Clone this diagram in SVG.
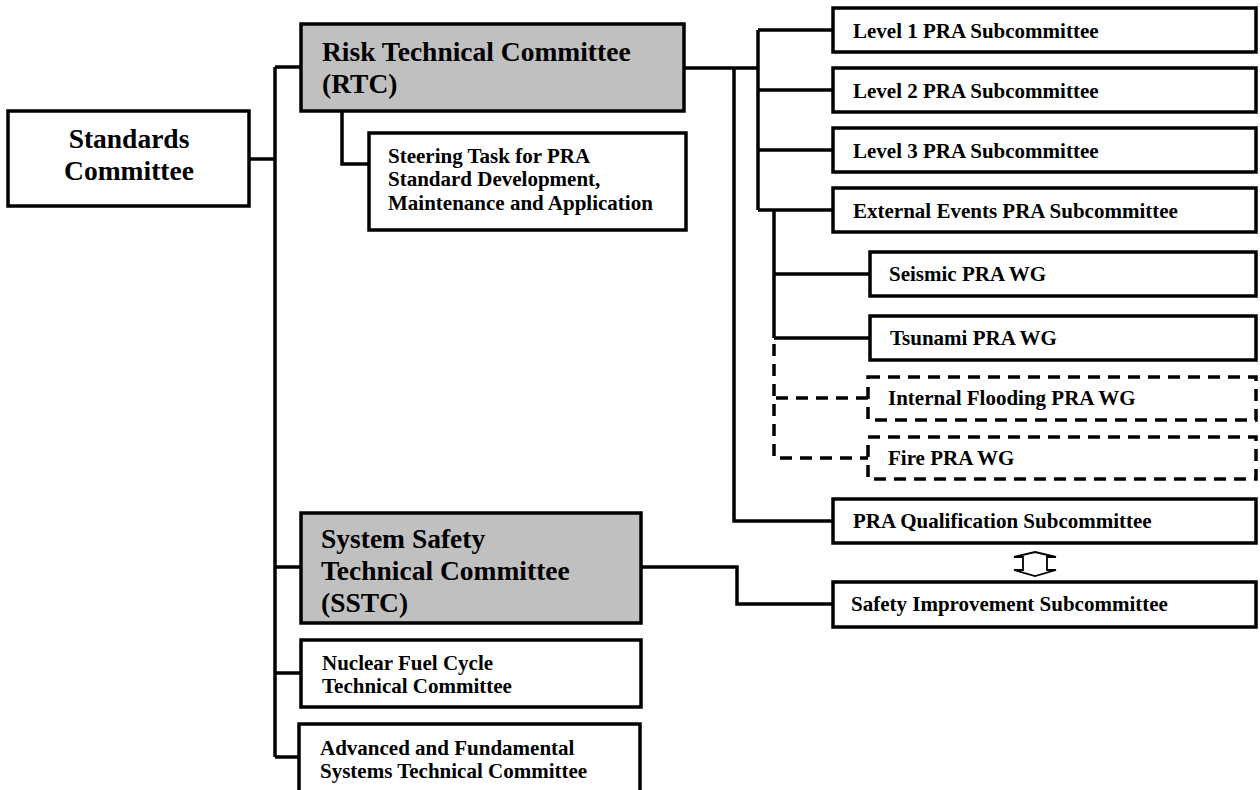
<svg xmlns="http://www.w3.org/2000/svg" width="1260" height="790" viewBox="0 0 1260 790">
<style>
.box{fill:#ffffff;stroke:#000;stroke-width:3.5}
.gray{fill:#c0c0c0;stroke:#000;stroke-width:3.5}
.dbox{fill:#ffffff;stroke:#000;stroke-width:3.5;stroke-dasharray:12 8}
.ln{fill:none;stroke:#000;stroke-width:3.5}
.dl{fill:none;stroke:#000;stroke-width:3.5;stroke-dasharray:12 8}
.big{font-family:"Liberation Serif","Times New Roman",serif;font-weight:bold;font-size:27.5px;fill:#000}
.sm{font-family:"Liberation Serif","Times New Roman",serif;font-weight:bold;font-size:21px;fill:#000}
</style>
<rect width="1260" height="790" fill="#ffffff"/>
<g id="connectors">
<path class="ln" d="M275,67 V757"/>
<path class="ln" d="M249,159 H275"/>
<path class="ln" d="M275,67 H301"/>
<path class="ln" d="M275,567 H301"/>
<path class="ln" d="M275,673 H301"/>
<path class="ln" d="M275,757 H299"/>
<path class="ln" d="M342,111 V164 H369"/>
<path class="ln" d="M684,68 H758"/>
<path class="ln" d="M758,30 V210"/>
<path class="ln" d="M758,30 H833"/>
<path class="ln" d="M758,90 H833"/>
<path class="ln" d="M758,150 H833"/>
<path class="ln" d="M758,210 H833"/>
<path class="ln" d="M734,68 V521 H833"/>
<path class="ln" d="M774,210 V338"/>
<path class="ln" d="M774,274 H870"/>
<path class="ln" d="M774,338 H870"/>
<path class="dl" d="M774,344 V458 H868"/>
<path class="dl" d="M868,398 H774"/>
<path class="ln" d="M641,567 H737 V604 H833"/>
<path fill="#ffffff" stroke="#000" stroke-width="1.8" d="M1035,552 L1056,557 L1047,557 L1047,570 L1056,570 L1035,576 L1014,570 L1023,570 L1023,557 L1014,557 Z"/>
</g>
<g id="standards">
<rect class="box" x="8" y="111" width="241" height="95"/>
<text class="big" x="129" y="148" text-anchor="middle">Standards</text>
<text class="big" x="129" y="180" text-anchor="middle">Committee</text>
</g>
<g id="rtc">
<rect class="gray" x="301" y="24" width="383" height="87"/>
<text class="big" x="322" y="61">Risk Technical Committee</text>
<text class="big" x="322" y="93">(RTC)</text>
</g>
<g id="steering">
<rect class="box" x="369" y="133" width="317" height="97"/>
<text class="sm" x="388" y="163">Steering Task for PRA</text>
<text class="sm" x="388" y="186">Standard Development,</text>
<text class="sm" x="388" y="210">Maintenance and Application</text>
</g>
<g id="sstc">
<rect class="gray" x="301" y="513" width="340" height="110"/>
<text class="big" x="321" y="548">System Safety</text>
<text class="big" x="321" y="580">Technical Committee</text>
<text class="big" x="321" y="612">(SSTC)</text>
</g>
<g id="nfctc">
<rect class="box" x="301" y="640" width="340" height="67"/>
<text class="sm" x="322" y="670">Nuclear Fuel Cycle</text>
<text class="sm" x="322" y="693">Technical Committee</text>
</g>
<g id="afstc">
<rect class="box" x="299" y="724" width="341" height="72"/>
<text class="sm" x="320" y="755">Advanced and Fundamental</text>
<text class="sm" x="320" y="778">Systems Technical Committee</text>
</g>
<g id="level1">
<rect class="box" x="833" y="8" width="423" height="44"/>
<text class="sm" x="853" y="38">Level 1 PRA Subcommittee</text>
</g>
<g id="level2">
<rect class="box" x="833" y="68" width="423" height="44"/>
<text class="sm" x="853" y="98">Level 2 PRA Subcommittee</text>
</g>
<g id="level3">
<rect class="box" x="833" y="128" width="423" height="44"/>
<text class="sm" x="853" y="158">Level 3 PRA Subcommittee</text>
</g>
<g id="external">
<rect class="box" x="833" y="188" width="423" height="44"/>
<text class="sm" x="853" y="218">External Events PRA Subcommittee</text>
</g>
<g id="seismic">
<rect class="box" x="870" y="252" width="386" height="44"/>
<text class="sm" x="889" y="281">Seismic PRA WG</text>
</g>
<g id="tsunami">
<rect class="box" x="870" y="316" width="386" height="44"/>
<text class="sm" x="890" y="345">Tsunami PRA WG</text>
</g>
<g id="flooding">
<rect class="dbox" x="868" y="377" width="388" height="43"/>
<text class="sm" x="888" y="405">Internal Flooding PRA WG</text>
</g>
<g id="fire">
<rect class="dbox" x="868" y="437" width="388" height="42"/>
<text class="sm" x="888" y="465">Fire PRA WG</text>
</g>
<g id="qualification">
<rect class="box" x="833" y="499" width="423" height="44"/>
<text class="sm" x="853" y="528">PRA Qualification Subcommittee</text>
</g>
<g id="safety">
<rect class="box" x="833" y="582" width="423" height="45"/>
<text class="sm" x="851" y="611">Safety Improvement Subcommittee</text>
</g>
</svg>
